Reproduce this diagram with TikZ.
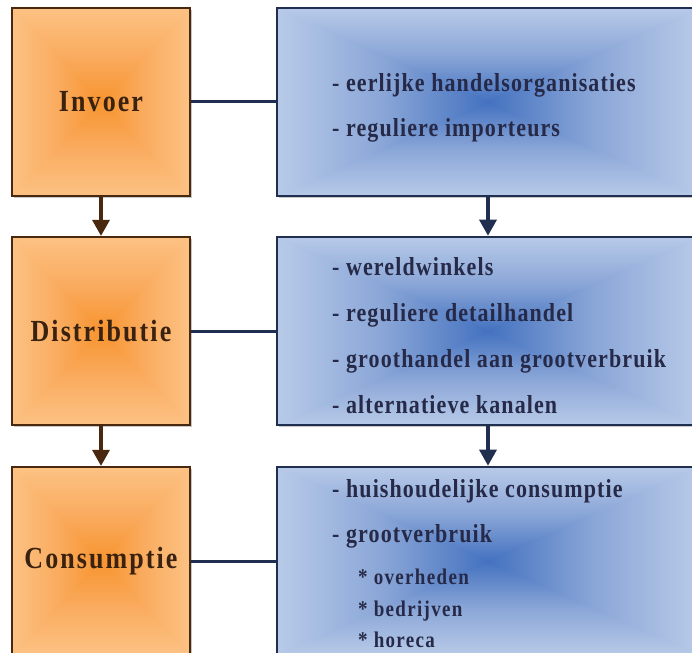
\documentclass[tikz,border=0pt]{standalone}
\usepackage{graphicx}
\usepackage{fontspec}
\setmainfont{Liberation Serif}
\newfontfamily\lftfont[LetterSpace=8]{Liberation Serif}
\newfontfamily\rgtfont[LetterSpace=5]{Liberation Serif}
\newfontfamily\subfont[LetterSpace=7]{Liberation Serif}
\usetikzlibrary{arrows.meta,shadows}
\newcommand\vstr[1]{\scalebox{1}[1.18]{#1}}
\definecolor{oedge}{RGB}{252,194,132}
\definecolor{omid}{RGB}{250,172,96}
\definecolor{ocen}{RGB}{247,148,48}
\definecolor{bedge}{RGB}{184,202,232}
\definecolor{bmid}{RGB}{138,166,215}
\definecolor{bcen}{RGB}{68,114,192}
\definecolor{obord}{RGB}{72,40,14}
\definecolor{bbord}{RGB}{32,46,80}
\definecolor{ltext}{RGB}{58,34,16}
\definecolor{rtext}{RGB}{38,42,72}
% edge -> center profiles without rotation
\pgfdeclarehorizontalshading{oL}{100bp}{color(0bp)=(oedge); color(25bp)=(oedge); color(50bp)=(omid); color(75bp)=(ocen); color(100bp)=(ocen)}
\pgfdeclarehorizontalshading{oR}{100bp}{color(0bp)=(ocen); color(25bp)=(ocen); color(50bp)=(omid); color(75bp)=(oedge); color(100bp)=(oedge)}
\pgfdeclareverticalshading{oT}{100bp}{color(0bp)=(ocen); color(25bp)=(ocen); color(50bp)=(omid); color(75bp)=(oedge); color(100bp)=(oedge)}
\pgfdeclareverticalshading{oB}{100bp}{color(0bp)=(oedge); color(25bp)=(oedge); color(50bp)=(omid); color(75bp)=(ocen); color(100bp)=(ocen)}
\pgfdeclarehorizontalshading{bL}{100bp}{color(0bp)=(bedge); color(25bp)=(bedge); color(50bp)=(bmid); color(75bp)=(bcen); color(100bp)=(bcen)}
\pgfdeclarehorizontalshading{bR}{100bp}{color(0bp)=(bcen); color(25bp)=(bcen); color(50bp)=(bmid); color(75bp)=(bedge); color(100bp)=(bedge)}
\pgfdeclareverticalshading{bT}{100bp}{color(0bp)=(bcen); color(25bp)=(bcen); color(50bp)=(bmid); color(75bp)=(bedge); color(100bp)=(bedge)}
\pgfdeclareverticalshading{bB}{100bp}{color(0bp)=(bedge); color(25bp)=(bedge); color(50bp)=(bmid); color(75bp)=(bcen); color(100bp)=(bcen)}
\tikzset{
  rgrad/.style={path picture={
    \path (path picture bounding box.north west) coordinate (pgnw)
          (path picture bounding box.north east) coordinate (pgne)
          (path picture bounding box.south west) coordinate (pgsw)
          (path picture bounding box.south east) coordinate (pgse)
          (path picture bounding box.center) coordinate (pgc)
          (path picture bounding box.east) coordinate (pge)
          (path picture bounding box.west) coordinate (pgw);
    \shade[shading=#1T] (pgnw) rectangle (pge);
    \shade[shading=#1B] (pgw) rectangle (pgse);
    \shade[shading=#1L] (pgnw) -- (pgsw) -- (pgc) -- cycle;
    \shade[shading=#1R] (pgne) -- (pgse) -- (pgc) -- cycle;
  }},
  boxshadow/.style={drop shadow={shadow xshift=2pt, shadow yshift=-2pt, opacity=0.22, fill=black}},
  lbox/.style={draw=obord, line width=2.2pt, minimum width=178pt, minimum height=188pt,
    inner sep=0pt, boxshadow, rgrad=o, text=ltext,
    font=\lftfont\bfseries\fontsize{26}{30}\selectfont},
  rbox/.style={draw=bbord, line width=2.6pt, minimum width=422pt, minimum height=188pt,
    inner sep=0pt, boxshadow, rgrad=b},
  rtxt/.style={anchor=base west, inner sep=0pt, text=rtext,
    font=\rgtfont\bfseries\fontsize{22}{26}\selectfont},
  stxt/.style={anchor=base west, inner sep=0pt, text=rtext,
    font=\subfont\bfseries\fontsize{19}{22}\selectfont},
  conn/.style={draw=bbord, line width=3pt},
  larr/.style={draw=obord, line width=3.2pt, -{Triangle[width=17pt,length=16pt]}},
  rarr/.style={draw=bbord, line width=3.2pt, -{Triangle[width=17pt,length=16pt]}},
}
\begin{document}
\begin{tikzpicture}[x=1pt,y=1pt]
\useasboundingbox (0,0) rectangle (692,-652);
\clip (0,0) rectangle (692,-652);
\fill[white] (0,0) rectangle (692,-652);

\node[lbox] (L1) at (101,-102) {\vstr{Invoer}};
\node[lbox] (L2) at (101,-331) {\vstr{Distributie}};
\node[lbox] (L3) at (101,-561) {\vstr{Consumptie}};

\node[rbox] (R1) at (488,-102) {};
\node[rbox] (R2) at (488,-331) {};
\node[rbox] (R3) at (488,-561) {};

\draw[conn] (L1.east) -- (R1.west);
\draw[conn] (L2.east) -- (R2.west);
\draw[conn] (L3.east) -- (R3.west);

\draw[larr] (L1.south) -- (L2.north);
\draw[larr] (L2.south) -- (L3.north);
\draw[rarr] (R1.south) -- (R2.north);
\draw[rarr] (R2.south) -- (R3.north);

\node[rtxt] (a1) at (332,-92) {\vstr{- eerlijke handelsorganisaties}};
\node[rtxt] (a2) at (332,-137) {\vstr{- reguliere importeurs}};

\node[rtxt] (b1) at (332,-275) {\vstr{- wereldwinkels}};
\node[rtxt] (b2) at (332,-321) {\vstr{- reguliere detailhandel}};
\node[rtxt] (b3) at (332,-367) {\vstr{- groothandel aan grootverbruik}};
\node[rtxt] (b4) at (332,-413) {\vstr{- alternatieve kanalen}};

\node[rtxt] (c1) at (332,-497) {\vstr{- huishoudelijke consumptie}};
\node[rtxt] (c2) at (332,-542) {\vstr{- grootverbruik}};
\node[stxt] (c3) at (358,-584) {\vstr{* overheden}};
\node[stxt] (c4) at (358,-616) {\vstr{* bedrijven}};
\node[stxt] (c5) at (358,-647) {\vstr{* horeca}};
\end{tikzpicture}
\end{document}
